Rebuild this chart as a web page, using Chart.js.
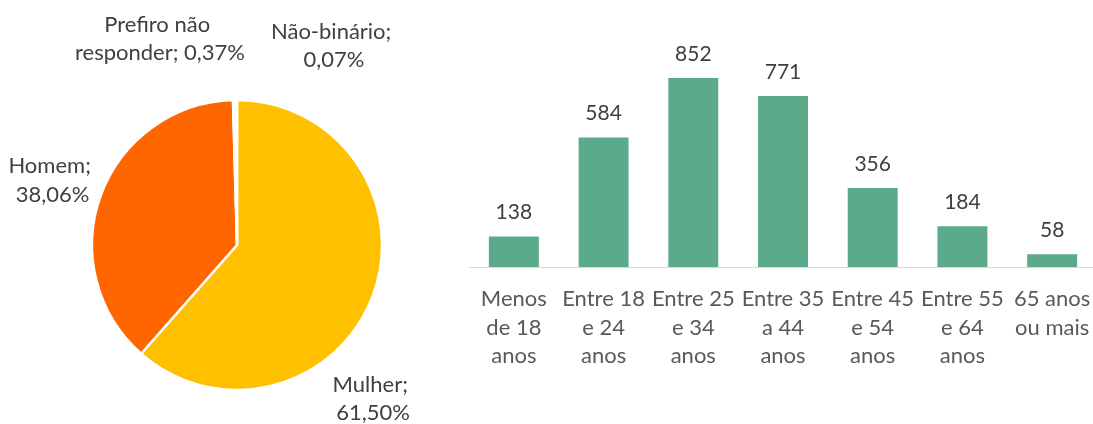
<!DOCTYPE html>
<html><head><meta charset="utf-8">
<script src="https://cdn.jsdelivr.net/npm/chart.js@4.4.0/dist/chart.umd.min.js"></script>
<style>
html,body{margin:0;padding:0;width:1093px;height:424px;overflow:hidden;background:#fff;}
#pie{position:absolute;left:0;top:0;}
#bar{position:absolute;left:460px;top:0;}
</style></head><body>
<canvas id="pie" width="480" height="424"></canvas>
<canvas id="bar" width="640" height="424"></canvas>
<script>
// ---- data ----
const genderLabels = ['Mulher', 'Homem', 'Prefiro não responder', 'Não-binário'];
const genderValues = [61.50, 38.06, 0.37, 0.07];
const genderColors = ['#FFC000', '#FF6600', '#F2F2F2', '#F2F2F2'];

const ageLabels = [
  ['Menos', 'de 18', 'anos'],
  ['Entre 18', 'e 24', 'anos'],
  ['Entre 25', 'e 34', 'anos'],
  ['Entre 35', 'a 44', 'anos'],
  ['Entre 45', 'e 54', 'anos'],
  ['Entre 55', 'e 64', 'anos'],
  ['65 anos', 'ou mais']
];
const ageValues = [138, 584, 852, 771, 356, 184, 58];

// ---- styles ----
const FONT_FAMILY = 'Lato, "Open Sans", sans-serif';
const FONT_SIZE = 22;
const VALUE_FONT_SIZE = 21;
const LINE_H = 28.4;

function fmtPct(v) { return v.toFixed(2).replace('.', ',') + '%'; }

function wrapText(ctx, text, maxW) {
  const words = text.split(' ');
  const lines = [];
  let cur = '';
  words.forEach(w => {
    const test = cur ? cur + ' ' + w : w;
    if (cur && ctx.measureText(test).width > maxW) {
      lines.push(cur + ' ');
      cur = w;
    } else cur = test;
  });
  if (cur) lines.push(cur);
  return lines;
}

const pieLabelPlugin = {
  id: 'pieLabels',
  afterDatasetsDraw(chart, args, opts) {
    const ctx = chart.ctx;
    const meta = chart.getDatasetMeta(0);
    ctx.save();
    ctx.font = FONT_SIZE + 'px ' + FONT_FAMILY;
    ctx.fillStyle = opts.color;
    ctx.textAlign = 'center';
    ctx.textBaseline = 'alphabetic';
    meta.data.forEach((arc, i) => {
      const p = arc.getProps(['x', 'y', 'startAngle', 'endAngle', 'outerRadius'], true);
      const mid = (p.startAngle + p.endAngle) / 2;
      const ax = p.x + Math.cos(mid) * p.outerRadius;
      const ay = p.y + Math.sin(mid) * p.outerRadius;
      const [dx, dy] = opts.offsets[i];
      const text = chart.data.labels[i] + '; ' + fmtPct(chart.data.datasets[0].data[i]);
      const lines = wrapText(ctx, text, opts.wrapWidths[i]);
      lines.forEach((l, k) => ctx.fillText(l, ax + dx, ay + dy + k * LINE_H));
    });
    ctx.restore();
  }
};

new Chart(document.getElementById('pie'), {
  type: 'pie',
  data: {
    labels: genderLabels,
    datasets: [{
      data: genderValues,
      backgroundColor: genderColors,
      borderColor: '#FFFFFF',
      borderWidth: 2.5
    }]
  },
  options: {
    responsive: false,
    animation: false,
    radius: 145,
    layout: { padding: { left: 87, right: 93, top: 95, bottom: 29 } },
    plugins: {
      legend: { display: false },
      tooltip: { enabled: false },
      pieLabels: {
        color: '#404040',
        offsets: [[0.4, 95.4], [-48.2, -22.3], [-74.7, -68.3], [97.3, -61]],
        wrapWidths: [95, 95, 185, 135]
      }
    }
  },
  plugins: [pieLabelPlugin]
});

const barLabelPlugin = {
  id: 'barLabels',
  afterDatasetsDraw(chart, args, opts) {
    const ctx = chart.ctx;
    const meta = chart.getDatasetMeta(0);
    ctx.save();
    ctx.font = VALUE_FONT_SIZE + 'px ' + FONT_FAMILY;
    ctx.fillStyle = opts.color;
    ctx.textAlign = 'center';
    ctx.textBaseline = 'alphabetic';
    meta.data.forEach((bar, i) => {
      ctx.fillText(String(chart.data.datasets[0].data[i]), bar.x, bar.y - opts.gap);
    });
    ctx.restore();
  }
};

new Chart(document.getElementById('bar'), {
  type: 'bar',
  data: {
    labels: ageLabels,
    datasets: [{
      data: ageValues,
      backgroundColor: '#5BAB8B',
      categoryPercentage: 1,
      barPercentage: 0.557
    }]
  },
  options: {
    responsive: false,
    animation: false,
    layout: { padding: { left: 9, right: 3, top: 67.4, bottom: 0 } },
    scales: {
      x: {
        grid: { display: false, drawTicks: false },
        border: { display: true, color: '#D9D9D9', width: 1 },
        ticks: {
          autoSkip: false, maxRotation: 0, minRotation: 0,
          padding: 18,
          color: '#595959',
          font: { family: FONT_FAMILY, size: FONT_SIZE, lineHeight: LINE_H / FONT_SIZE }
        },
        afterFit(scale) {
          scale.height = 157;
          scale.paddingLeft = 0;
          scale.paddingRight = 0;
        }
      },
      y: { display: false, min: 0, max: 900 }
    },
    plugins: {
      legend: { display: false },
      tooltip: { enabled: false },
      barLabels: { color: '#404040', gap: 17.5 }
    }
  },
  plugins: [barLabelPlugin]
});
</script>
</body></html>
